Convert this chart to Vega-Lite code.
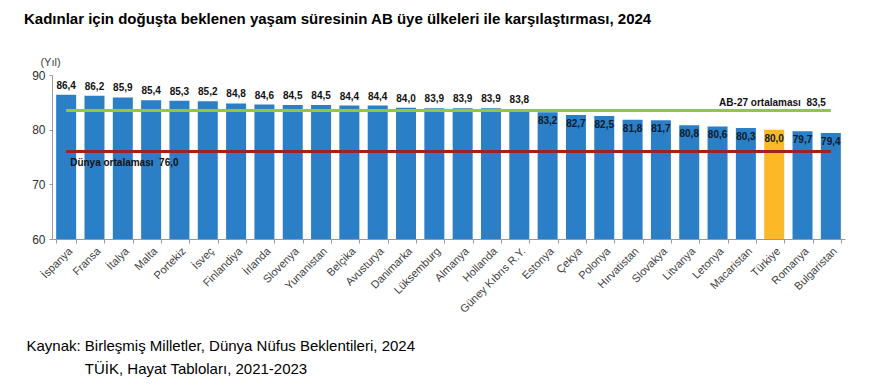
{
  "$schema": "https://vega.github.io/schema/vega-lite/v6.json",
  "autosize": "none",
  "width": 793,
  "height": 164,
  "padding": {"left": 52, "top": 75, "right": 32, "bottom": 149},
  "background": "white",
  "title": {
    "text": "Kadınlar için doğuşta beklenen yaşam süresinin AB üye ülkeleri ile karşılaştırması, 2024",
    "anchor": "start",
    "frame": "group",
    "dx": -28,
    "fontSize": 15,
    "fontWeight": "bold",
    "font": "Liberation Sans, Arial",
    "color": "#000000",
    "offset": 29
  },
  "datasets": {
    "ulkeler": [
      {"ulke": "İspanya", "deger": 86.4},
      {"ulke": "Fransa", "deger": 86.2},
      {"ulke": "İtalya", "deger": 85.9},
      {"ulke": "Malta", "deger": 85.4},
      {"ulke": "Portekiz", "deger": 85.3},
      {"ulke": "İsveç", "deger": 85.2},
      {"ulke": "Finlandiya", "deger": 84.8},
      {"ulke": "İrlanda", "deger": 84.6},
      {"ulke": "Slovenya", "deger": 84.5},
      {"ulke": "Yunanistan", "deger": 84.5},
      {"ulke": "Belçika", "deger": 84.4},
      {"ulke": "Avusturya", "deger": 84.4},
      {"ulke": "Danimarka", "deger": 84.0},
      {"ulke": "Lüksemburg", "deger": 83.9},
      {"ulke": "Almanya", "deger": 83.9},
      {"ulke": "Hollanda", "deger": 83.9},
      {"ulke": "Güney Kıbrıs R.Y.", "deger": 83.8},
      {"ulke": "Estonya", "deger": 83.2},
      {"ulke": "Çekya", "deger": 82.7},
      {"ulke": "Polonya", "deger": 82.5},
      {"ulke": "Hırvatistan", "deger": 81.8},
      {"ulke": "Slovakya", "deger": 81.7},
      {"ulke": "Litvanya", "deger": 80.8},
      {"ulke": "Letonya", "deger": 80.6},
      {"ulke": "Macaristan", "deger": 80.3},
      {"ulke": "Türkiye", "deger": 80.0},
      {"ulke": "Romanya", "deger": 79.7},
      {"ulke": "Bulgaristan", "deger": 79.4}
    ],
    "ortalamalar": [
      {"ad": "AB-27", "deger": 83.5, "bas": "İspanya", "son": "Bulgaristan", "etiket": "AB-27 ortalaması\u00a0\u00a083,5"},
      {"ad": "Dünya", "deger": 76.0, "bas": "İspanya", "son": "Bulgaristan", "etiket": "Dünya ortalaması\u00a0\u00a076,0"}
    ]
  },
  "data": {"name": "ulkeler"},
  "encoding": {
    "x": {
      "field": "ulke",
      "type": "nominal",
      "sort": null,
      "scale": {"paddingInner": 0.294, "paddingOuter": 0.147},
      "axis": {
        "title": ["Kaynak: Birleşmiş Milletler, Dünya Nüfus Beklentileri, 2024", "\u200b\u00a0\u00a0\u00a0\u00a0\u00a0\u00a0\u00a0\u00a0\u00a0\u00a0\u00a0\u00a0\u00a0\u00a0TÜİK, Hayat Tabloları, 2021-2023"],
        "titleX": -26,
        "titleY": 111,
        "titleAlign": "left",
        "titleBaseline": "alphabetic",
        "titleFont": "Liberation Sans, Arial",
        "titleFontSize": 15,
        "titleFontWeight": "normal",
        "titleColor": "#000000",
        "titleLineHeight": 23,
        "labelAngle": -45,
        "labelFont": "Liberation Sans, Arial",
        "labelFontSize": 11,
        "labelColor": "#404040",
        "labelPadding": 2,
        "labelLimit": 0,
        "tickBand": "extent",
        "tickSize": 4,
        "tickColor": "#9a9a9a",
        "domainColor": "#9a9a9a"
      }
    }
  },
  "layer": [
    {
      "mark": {"type": "bar", "clip": true},
      "encoding": {
        "y": {
          "field": "deger",
          "type": "quantitative",
          "scale": {"domain": [60, 90], "zero": false, "nice": false},
          "axis": {
            "values": [60, 70, 80, 90],
            "grid": false,
            "title": "(Yıl)",
            "titleAngle": 0,
            "titleX": -2,
            "titleY": -13,
            "titleAlign": "center",
            "titleBaseline": "middle",
            "titleFont": "Liberation Sans, Arial",
            "titleFontSize": 11,
            "titleFontWeight": "normal",
            "titleColor": "#404040",
            "labelFont": "Liberation Sans, Arial",
            "labelFontSize": 12,
            "labelColor": "#303030",
            "labelPadding": 4,
            "tickSize": 3,
            "tickColor": "#9a9a9a",
            "domainColor": "#9a9a9a"
          }
        },
        "color": {
          "condition": {"test": "datum.ulke === 'Türkiye'", "value": "#FDB827"},
          "value": "#2B7FC7"
        }
      }
    },
    {
      "transform": [{"filter": "datum.deger >= 83.6"}],
      "mark": {"type": "text", "font": "Liberation Sans, Arial", "fontSize": 10, "fontWeight": "bold", "color": "#111111", "baseline": "alphabetic", "dy": -6},
      "encoding": {
        "y": {"field": "deger", "type": "quantitative"},
        "text": {"field": "deger", "type": "quantitative", "format": ".1f"}
      }
    },
    {
      "transform": [{"filter": "datum.deger < 83.6"}],
      "mark": {"type": "text", "font": "Liberation Sans, Arial", "fontSize": 10, "fontWeight": "bold", "color": "#0d1a2b", "baseline": "alphabetic", "dy": 12},
      "encoding": {
        "y": {"field": "deger", "type": "quantitative"},
        "text": {"field": "deger", "type": "quantitative", "format": ".1f"}
      }
    },
    {
      "data": {"name": "ortalamalar"},
      "mark": {"type": "rule", "strokeWidth": 3},
      "encoding": {
        "x": {"field": "bas", "type": "nominal"},
        "x2": {"field": "son"},
        "y": {"field": "deger", "type": "quantitative"},
        "color": {
          "field": "ad",
          "type": "nominal",
          "scale": {"domain": ["AB-27", "Dünya"], "range": ["#92C83E", "#A31F24"]},
          "legend": null
        }
      }
    },
    {
      "data": {"name": "ortalamalar"},
      "transform": [{"filter": "datum.ad === 'AB-27'"}],
      "mark": {"type": "text", "font": "Liberation Sans, Arial", "fontSize": 10, "fontWeight": "bold", "color": "#111111", "align": "right", "baseline": "alphabetic", "dx": -5, "dy": -5},
      "encoding": {
        "x": {"field": "son", "type": "nominal"},
        "y": {"field": "deger", "type": "quantitative"},
        "text": {"field": "etiket"}
      }
    },
    {
      "data": {"name": "ortalamalar"},
      "transform": [{"filter": "datum.ad === 'Dünya'"}],
      "mark": {"type": "text", "font": "Liberation Sans, Arial", "fontSize": 10, "fontWeight": "bold", "color": "#111111", "align": "left", "baseline": "alphabetic", "dx": 4, "dy": 14},
      "encoding": {
        "x": {"field": "bas", "type": "nominal"},
        "y": {"field": "deger", "type": "quantitative"},
        "text": {"field": "etiket"}
      }
    }
  ],
  "config": {
    "view": {"stroke": null},
    "locale": {"number": {"decimal": ",", "thousands": ".", "grouping": [3], "currency": ["", " TL"]}}
  }
}
